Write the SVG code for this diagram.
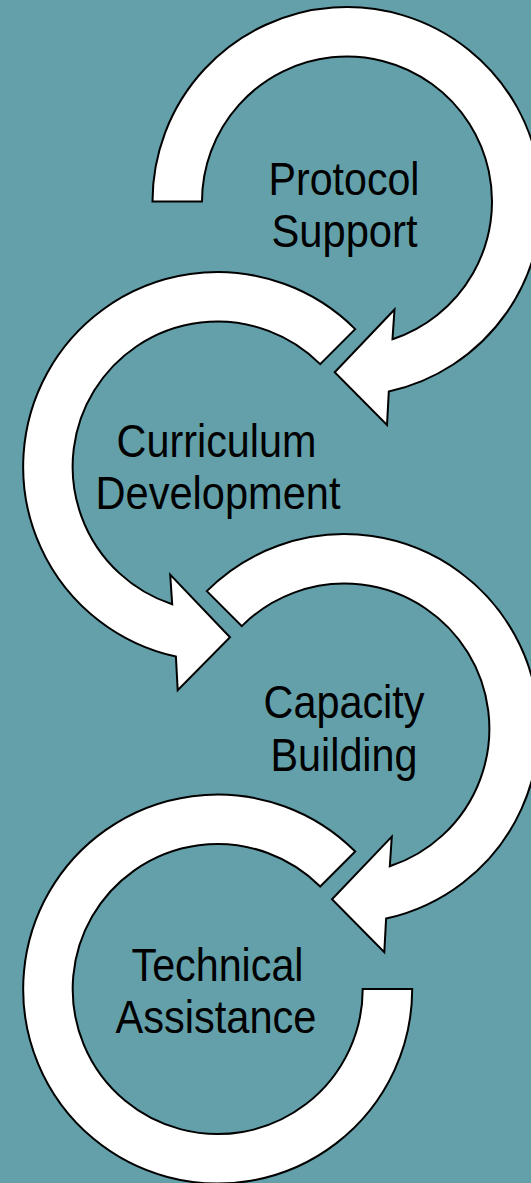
<svg xmlns="http://www.w3.org/2000/svg" width="531" height="1183" viewBox="0 0 531 1183">
<style>
.arrow{fill:#ffffff;stroke:#000000;stroke-width:2;stroke-linejoin:miter}
.label{font-family:"Liberation Sans",Arial,sans-serif;font-size:47px;fill:#000000;text-anchor:middle}
</style>
<rect x="0" y="0" width="531" height="1183" fill="#63A0AA"/>
<g id="connectors"></g>
<g id="node-protocol-support">
<path class="arrow" d="M152.5,201.5 A194.5,194.5 0 1 1 388.8,391.5 L387,425 L334.7,372.2 L394.5,309.5 L392.5,339.2 A145,145 0 1 0 202,201.5 Z"/>
<text class="label" x="344" y="195" textLength="151" lengthAdjust="spacingAndGlyphs">Protocol</text>
<text class="label" x="344.5" y="246.5" textLength="146" lengthAdjust="spacingAndGlyphs">Support</text>
</g>
<g id="node-curriculum-development">
<path class="arrow" d="M355.2,329.1 A194.5,194.5 0 1 0 175.9,656.6 L177.7,690.1 L230,637.3 L170.2,574.6 L172.2,604.3 A145,145 0 1 1 320.2,364.1 Z"/>
<text class="label" x="216.5" y="457" textLength="200" lengthAdjust="spacingAndGlyphs">Curriculum</text>
<text class="label" x="218" y="509" textLength="245" lengthAdjust="spacingAndGlyphs">Development</text>
</g>
<g id="node-capacity-building">
<path class="arrow" d="M206.8,591.1 A194.5,194.5 0 1 1 386.1,918.6 L384.3,952.1 L332,899.3 L391.8,836.6 L389.8,866.3 A145,145 0 1 0 241.8,626.1 Z"/>
<text class="label" x="344" y="718" textLength="161" lengthAdjust="spacingAndGlyphs">Capacity</text>
<text class="label" x="344" y="771" textLength="147" lengthAdjust="spacingAndGlyphs">Building</text>
</g>
<g id="node-technical-assistance">
<path class="arrow" d="M355.2,851.5 A194.5,194.5 0 1 0 412.2,989 L362.7,989 A145,145 0 1 1 320.2,886.5 Z"/>
<text class="label" x="217.5" y="981" textLength="172" lengthAdjust="spacingAndGlyphs">Technical</text>
<text class="label" x="216" y="1033" textLength="201" lengthAdjust="spacingAndGlyphs">Assistance</text>
</g>
</svg>
